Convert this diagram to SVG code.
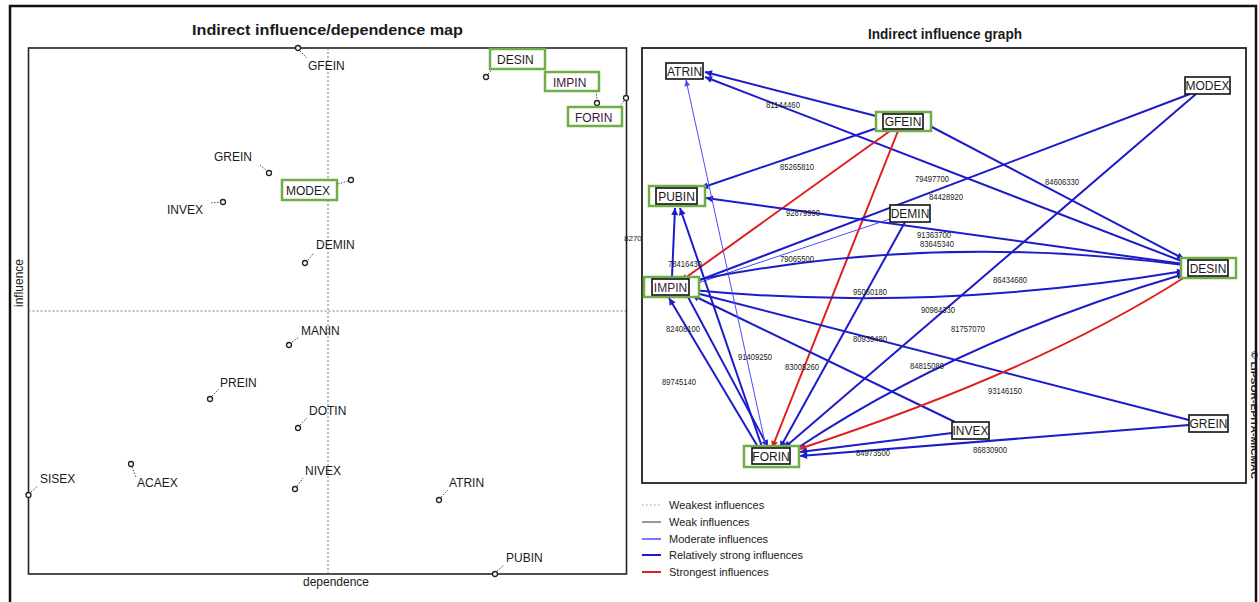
<svg xmlns="http://www.w3.org/2000/svg" width="1259" height="602" viewBox="0 0 1259 602">
<style>
text{font-family:"Liberation Sans",Arial,sans-serif;fill:#1a1a1a}
.ttl{font-size:14px;font-weight:bold}
.pl{font-size:12px}
.ax{font-size:12px}
.grn{fill:#fff;stroke:#6fad46;stroke-width:2.5}
.pt{fill:#fff;stroke:#222;stroke-width:1.3}
.dl{stroke:#444;stroke-width:1;stroke-dasharray:1.5,1.5;fill:none}
.axis{stroke:#777;stroke-width:1;stroke-dasharray:2,2;fill:none}
.nb{fill:#fff;stroke:#111;stroke-width:1.6}
.nt{font-size:12px;text-anchor:middle}
.s{stroke:#1c1cc8;stroke-width:2;fill:none;marker-end:url(#aS)}
.m{stroke:#4b4bff;stroke-width:1;fill:none;marker-end:url(#aM)}
.r{stroke:#e01e1e;stroke-width:2;fill:none;marker-end:url(#aR)}
.lbl{font-size:8.5px;text-anchor:middle}
.lg{font-size:11px}
</style>
<defs>
<marker id="aS" viewBox="0 0 10 10" refX="10" refY="5" markerWidth="9" markerHeight="7" orient="auto" markerUnits="userSpaceOnUse"><path d="M0,0 L10,5 L0,10 z" fill="#1c1cc8"/></marker>
<marker id="aM" viewBox="0 0 10 10" refX="10" refY="5" markerWidth="8" markerHeight="6" orient="auto" markerUnits="userSpaceOnUse"><path d="M0,0 L10,5 L0,10 z" fill="#4b4bff"/></marker>
<marker id="aR" viewBox="0 0 10 10" refX="10" refY="5" markerWidth="9" markerHeight="7" orient="auto" markerUnits="userSpaceOnUse"><path d="M0,0 L10,5 L0,10 z" fill="#e01e1e"/></marker>
</defs>
<rect x="0" y="0" width="1259" height="602" fill="#fff"/>
<rect x="10" y="6" width="1246" height="620" fill="none" stroke="#111" stroke-width="2.5"/>

<!-- LEFT PANEL -->
<g id="left-map">
<text class="ttl" x="192" y="35" textLength="271" lengthAdjust="spacingAndGlyphs">Indirect influence/dependence map</text>
<rect x="28.5" y="48" width="598" height="526" fill="none" stroke="#222" stroke-width="1.6"/>
<line class="axis" x1="328" y1="48" x2="328" y2="574"/>
<line class="axis" x1="28.5" y1="311" x2="626" y2="311"/>
<text class="ax" transform="translate(23,283) rotate(-90)" text-anchor="middle">influence</text>
<text class="ax" x="336" y="586" text-anchor="middle">dependence</text>
<text x="624" y="241" font-size="8">8270</text>
</g>
<g id="m-GFEIN"><line class="dl" x1="300" y1="51" x2="307" y2="58"/><circle class="pt" cx="298" cy="48" r="2.5"/><text class="pl" x="308" y="70">GFEIN</text></g>
<g id="m-DESIN"><line class="dl" x1="488" y1="74" x2="493" y2="69"/><circle class="pt" cx="486" cy="77" r="2.5"/><rect class="grn" x="490" y="49" width="55" height="20"/><text class="pl" x="497" y="64">DESIN</text></g>
<g id="m-IMPIN"><line class="dl" x1="596" y1="91" x2="597" y2="100"/><circle class="pt" cx="597" cy="103" r="2.5"/><rect class="grn" x="545" y="72" width="54" height="19"/><text class="pl" x="553" y="87" style="fill:#3a1838">IMPIN</text></g>
<g id="m-FORIN"><line class="dl" x1="624" y1="101" x2="620" y2="106"/><circle class="pt" cx="626" cy="98" r="2.5"/><rect class="grn" x="568" y="107" width="54" height="19"/><text class="pl" x="575" y="122" style="fill:#3a1838">FORIN</text></g>
<g id="m-GREIN"><line class="dl" x1="260" y1="165" x2="266" y2="170"/><circle class="pt" cx="269" cy="173" r="2.5"/><text class="pl" x="214" y="161">GREIN</text></g>
<g id="m-MODEX"><line class="dl" x1="338" y1="184" x2="348" y2="181"/><circle class="pt" cx="351" cy="180" r="2.5"/><rect class="grn" x="282" y="180" width="55" height="20"/><text class="pl" x="286" y="195">MODEX</text></g>
<g id="m-INVEX"><line class="dl" x1="211" y1="203" x2="220" y2="202"/><circle class="pt" cx="223" cy="202" r="2.5"/><text class="pl" x="167" y="214">INVEX</text></g>
<g id="m-DEMIN"><line class="dl" x1="308" y1="260" x2="314" y2="253"/><circle class="pt" cx="305" cy="263" r="2.5"/><text class="pl" x="316" y="249">DEMIN</text></g>
<g id="m-MANIN"><line class="dl" x1="292" y1="342" x2="299" y2="337"/><circle class="pt" cx="289" cy="345" r="2.5"/><text class="pl" x="301" y="335">MANIN</text></g>
<g id="m-PREIN"><line class="dl" x1="212" y1="396" x2="219" y2="389"/><circle class="pt" cx="210" cy="399" r="2.5"/><text class="pl" x="220" y="387">PREIN</text></g>
<g id="m-DOTIN"><line class="dl" x1="300" y1="425" x2="307" y2="418"/><circle class="pt" cx="298" cy="428" r="2.5"/><text class="pl" x="309" y="415">DOTIN</text></g>
<g id="m-SISEX"><line class="dl" x1="31" y1="492" x2="38" y2="486"/><circle class="pt" cx="28.5" cy="495" r="2.5"/><text class="pl" x="40" y="483">SISEX</text></g>
<g id="m-ACAEX"><line class="dl" x1="132" y1="467" x2="136" y2="477"/><circle class="pt" cx="131" cy="464" r="2.5"/><text class="pl" x="137" y="487">ACAEX</text></g>
<g id="m-NIVEX"><line class="dl" x1="297" y1="486" x2="303" y2="478"/><circle class="pt" cx="295" cy="489" r="2.5"/><text class="pl" x="305" y="475">NIVEX</text></g>
<g id="m-ATRIN"><line class="dl" x1="441" y1="497" x2="448" y2="490"/><circle class="pt" cx="439" cy="500" r="2.5"/><text class="pl" x="449" y="487">ATRIN</text></g>
<g id="m-PUBIN"><line class="dl" x1="497" y1="571" x2="504" y2="565"/><circle class="pt" cx="495" cy="574" r="2.5"/><text class="pl" x="506" y="562">PUBIN</text></g>

<!-- RIGHT PANEL -->
<g id="right-frame">
<text class="ttl" x="868" y="39" textLength="154" lengthAdjust="spacingAndGlyphs">Indirect influence graph</text>
<rect x="642" y="48" width="604" height="435" fill="none" stroke="#222" stroke-width="1.8"/>
<text transform="translate(1251,415) rotate(90)" font-size="8.5" font-weight="bold" text-anchor="middle" textLength="128" lengthAdjust="spacingAndGlyphs">© LIPSOR-EPITA-MICMAC</text>
</g>

<g id="connectors">
<path class="s" d="M876,116 L705,72"/>
<path class="s" d="M1184,262 L705,77"/>
<path class="s" d="M880,127 L701,188"/>
<path class="s" d="M930,126 L1184,259"/>
<path class="r" d="M890,131 L681,281"/>
<path class="r" d="M898,131 L772,448"/>
<path class="s" d="M1190,94 L692,283"/>
<path class="s" d="M1196,94 L784,448"/>
<path class="s" d="M1184,264 L706,198"/>
<path class="m" d="M890,219 L692,285"/>
<path class="s" d="M905,222 L780,448"/>
<path class="s" d="M1184,265 Q930,232 692,281"/>
<path class="s" d="M692,290 Q930,313 1184,271"/>
<path class="s" d="M1189,420 L692,292"/>
<path class="s" d="M955,422 L692,295"/>
<path class="s" d="M672,277 L675,208"/>
<path class="s" d="M762,447 L680,208"/>
<path class="s" d="M758,447 L669,298"/>
<path class="s" d="M688,297 L768,447"/>
<path class="m" d="M766,447 L686,80"/>
<path class="s" d="M799,447 Q960,340 1184,274"/>
<path class="r" d="M1185,277 Q1040,370 799,449"/>
<path class="s" d="M952,433 L800,452"/>
<path class="s" d="M1189,425 L800,456"/>
</g>

<g id="edge-labels">
<text class="lbl" x="783" y="108" textLength="34" lengthAdjust="spacingAndGlyphs">81144460</text>
<text class="lbl" x="797" y="170" textLength="34" lengthAdjust="spacingAndGlyphs">85265810</text>
<text class="lbl" x="932" y="182" textLength="34" lengthAdjust="spacingAndGlyphs">79497700</text>
<text class="lbl" x="946" y="200" textLength="34" lengthAdjust="spacingAndGlyphs">84428920</text>
<text class="lbl" x="1062" y="185" textLength="34" lengthAdjust="spacingAndGlyphs">84606330</text>
<text class="lbl" x="803" y="216" textLength="34" lengthAdjust="spacingAndGlyphs">92879990</text>
<text class="lbl" x="934" y="238" textLength="34" lengthAdjust="spacingAndGlyphs">91363700</text>
<text class="lbl" x="937" y="247" textLength="34" lengthAdjust="spacingAndGlyphs">83645340</text>
<text class="lbl" x="685" y="267" textLength="34" lengthAdjust="spacingAndGlyphs">78416430</text>
<text class="lbl" x="797" y="262" textLength="34" lengthAdjust="spacingAndGlyphs">79065500</text>
<text class="lbl" x="870" y="295" textLength="34" lengthAdjust="spacingAndGlyphs">95060180</text>
<text class="lbl" x="1010" y="283" textLength="34" lengthAdjust="spacingAndGlyphs">86434680</text>
<text class="lbl" x="938" y="313" textLength="34" lengthAdjust="spacingAndGlyphs">90984330</text>
<text class="lbl" x="968" y="332" textLength="34" lengthAdjust="spacingAndGlyphs">81757070</text>
<text class="lbl" x="683" y="332" textLength="34" lengthAdjust="spacingAndGlyphs">82408100</text>
<text class="lbl" x="870" y="342" textLength="34" lengthAdjust="spacingAndGlyphs">80939480</text>
<text class="lbl" x="755" y="360" textLength="34" lengthAdjust="spacingAndGlyphs">91409250</text>
<text class="lbl" x="802" y="370" textLength="34" lengthAdjust="spacingAndGlyphs">83005260</text>
<text class="lbl" x="927" y="369" textLength="34" lengthAdjust="spacingAndGlyphs">84815080</text>
<text class="lbl" x="679" y="385" textLength="34" lengthAdjust="spacingAndGlyphs">89745140</text>
<text class="lbl" x="1005" y="394" textLength="34" lengthAdjust="spacingAndGlyphs">93146150</text>
<text class="lbl" x="873" y="456" textLength="34" lengthAdjust="spacingAndGlyphs">84973500</text>
<text class="lbl" x="990" y="453" textLength="34" lengthAdjust="spacingAndGlyphs">86830900</text>
</g>

<g id="n-ATRIN"><rect class="nb" x="666" y="63" width="37" height="16"/><text class="nt" x="684.5" y="75.5">ATRIN</text></g>
<g id="n-GFEIN"><rect class="grn" x="876" y="112" width="55" height="19"/><rect class="nb" x="883" y="114" width="40" height="15"/><text class="nt" x="903" y="126">GFEIN</text></g>
<g id="n-MODEX"><rect class="nb" x="1185" y="77" width="45" height="17"/><text class="nt" x="1207.5" y="90">MODEX</text></g>
<g id="n-PUBIN"><rect class="grn" x="649" y="186" width="56" height="20"/><rect class="nb" x="656" y="188" width="41" height="16"/><text class="nt" x="676.5" y="200.5">PUBIN</text></g>
<g id="n-DEMIN"><rect class="nb" x="890" y="205" width="40" height="17"/><text class="nt" x="910" y="218">DEMIN</text></g>
<g id="n-IMPIN"><rect class="grn" x="644" y="277" width="55" height="20"/><rect class="nb" x="652" y="279" width="37" height="16"/><text class="nt" x="670.5" y="291.5" style="fill:#3a1838">IMPIN</text></g>
<g id="n-DESIN"><rect class="grn" x="1181" y="258" width="55" height="20"/><rect class="nb" x="1188" y="260" width="40" height="16"/><text class="nt" x="1208" y="272.5">DESIN</text></g>
<g id="n-INVEX"><rect class="nb" x="952" y="422" width="37" height="17"/><text class="nt" x="970.5" y="435">INVEX</text></g>
<g id="n-GREIN"><rect class="nb" x="1189" y="415" width="39" height="17"/><text class="nt" x="1208.5" y="428">GREIN</text></g>
<g id="n-FORIN"><rect class="grn" x="744" y="446" width="55" height="21"/><rect class="nb" x="752" y="448" width="38" height="16"/><text class="nt" x="771" y="460.5">FORIN</text></g>

<g id="legend">
<line x1="642" y1="505" x2="661" y2="505" stroke="#999" stroke-width="1" stroke-dasharray="1.5,2.5"/>
<text class="lg" x="669" y="509">Weakest influences</text>
<line x1="642" y1="522" x2="661" y2="522" stroke="#777" stroke-width="1.5"/>
<text class="lg" x="669" y="526">Weak influences</text>
<line x1="642" y1="539" x2="661" y2="539" stroke="#4b4bff" stroke-width="1.5"/>
<text class="lg" x="669" y="543">Moderate influences</text>
<line x1="642" y1="555" x2="661" y2="555" stroke="#1c1cc8" stroke-width="2"/>
<text class="lg" x="669" y="559">Relatively strong influences</text>
<line x1="642" y1="572" x2="661" y2="572" stroke="#e01e1e" stroke-width="2"/>
<text class="lg" x="669" y="576">Strongest influences</text>
</g>
</svg>
